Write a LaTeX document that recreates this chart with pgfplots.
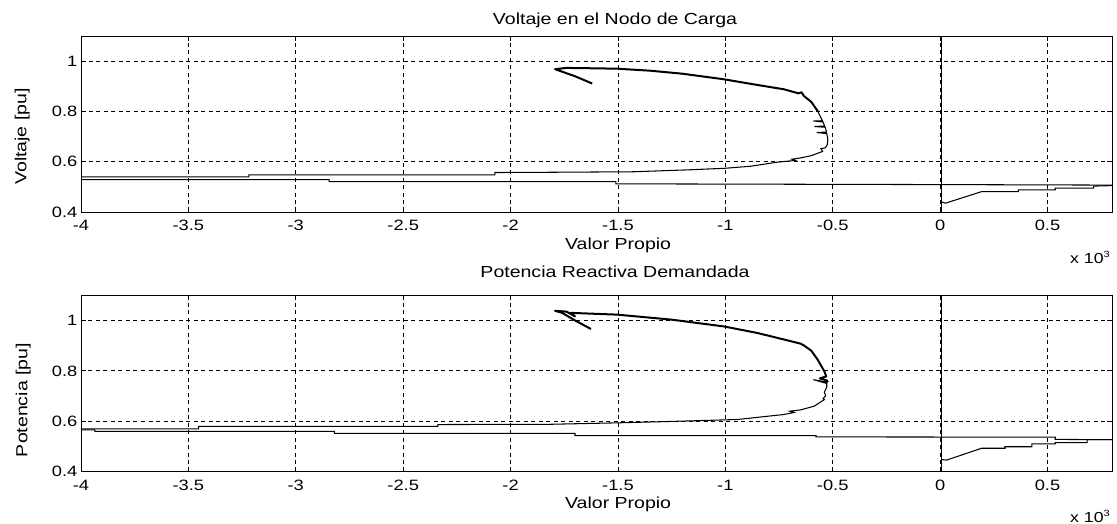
\documentclass[border=0pt]{standalone}
\usepackage{fontspec}
\setmainfont{Liberation Sans}[FakeStretch=1.22]
\usepackage{pgfplots}
\pgfplotsset{compat=1.18}
\pgfplotsset{
  matlab/.style={
    scale only axis, width=1031pt,
    xmin=-4, xmax=0.8, ymin=0.4, ymax=1.1,
    xtick={-4,-3.5,-3,-2.5,-2,-1.5,-1,-0.5,0,0.5},
    xticklabels={-4,-3.5,-3,-2.5,-2,-1.5,-1,-0.5,0,0.5},
    ytick={0.4,0.6,0.8,1}, yticklabels={0.4,0.6,0.8,1},
    grid=major,
    major grid style={black, line width=0.7pt, dash pattern=on 4pt off 3.5pt},
    axis line style={black, line width=0.9pt},
    tick style={black, line width=0.8pt}, major tick length=5pt, tick align=inside,
    tick label style={font=\fontsize{15}{17}\selectfont},
    xticklabel style={anchor=base, yshift=-18.7pt},
    yticklabel style={anchor=east, inner xsep=3.5pt},
    label style={font=\fontsize{16}{18}\selectfont, inner sep=0pt},
    title style={font=\fontsize{16}{18}\selectfont, inner sep=0pt, anchor=base},
    ylabel style={anchor=south, rotate=0},
    xlabel style={anchor=base},
    thin/.style={black, line width=1.05pt, no marks},
    thick/.style={black, line width=2pt, no marks, line join=round},
  }
}
\begin{document}
\begin{tikzpicture}
\useasboundingbox (0pt,0pt) rectangle (1117pt,524pt);
% ---------------- top axis ----------------
\begin{axis}[matlab,
  at={(81pt,312pt)}, anchor=south west, height=176pt,
  title={Voltaje en el Nodo de Carga},
  title style={at={(axis description cs:0.518,1.030)}},
  xlabel={Valor Propio},
  xlabel style={at={(axis description cs:0.521,-0.212)}},
  ylabel={Voltaje [pu]},
  ylabel style={at={(axis description cs:-0.0495,0.429)}},
]
\addplot[thick] coordinates {(-1.620,0.911) (-1.700,0.940) (-1.793,0.968) (-1.740,0.973) (-1.650,0.972) (-1.505,0.970) (-1.350,0.962) (-1.200,0.950) (-1.008,0.928) (-0.870,0.908) (-0.727,0.888) (-0.660,0.872) (-0.645,0.876) (-0.635,0.862) (-0.600,0.838) (-0.570,0.801)};
\addplot[thin] coordinates {(-0.570,0.801) (-0.558,0.780) (-0.548,0.763) (-0.590,0.762) (-0.545,0.758) (-0.538,0.742) (-0.585,0.740) (-0.535,0.737) (-0.529,0.718) (-0.575,0.716) (-0.528,0.712) (-0.523,0.690) (-0.525,0.668) (-0.535,0.655) (-0.555,0.652) (-0.547,0.641) (-0.600,0.624) (-0.650,0.615) (-0.690,0.610) (-0.675,0.605) (-0.760,0.598) (-0.882,0.582) (-1.000,0.574) (-1.162,0.568) (-1.427,0.560) (-1.816,0.558) (-2.073,0.557) (-2.073,0.548) (-3.218,0.548) (-3.218,0.540) (-4.000,0.540)};
\addplot[thin] coordinates {(-4.000,0.529) (-2.845,0.529) (-2.845,0.521) (-1.510,0.521) (-1.510,0.512) (0.000,0.509) (0.800,0.507)};
\addplot[thin] coordinates {(0.006,0.4) (0.006,1.1)};
\addplot[thin] coordinates {(0.006,0.440) (0.025,0.435) (0.193,0.481) (0.364,0.481) (0.364,0.488) (0.536,0.488) (0.536,0.495) (0.715,0.495) (0.715,0.503) (0.800,0.505)};
\addplot[black, line width=1.8pt, no marks] coordinates {(0.006,0.506) (0.006,0.621)};
\end{axis}
% ---------------- bottom axis ----------------
\begin{axis}[matlab,
  at={(81pt,52.3pt)}, anchor=south west, height=176.5pt,
  title={Potencia Reactiva Demandada},
  title style={at={(axis description cs:0.518,1.064)}},
  xlabel={Valor Propio},
  xlabel style={at={(axis description cs:0.521,-0.2096)}},
  ylabel={Potencia [pu]},
  ylabel style={at={(axis description cs:-0.0485,0.406)}},
]
\addplot[thick] coordinates {(-1.626,0.966) (-1.700,1.000) (-1.760,1.030) (-1.793,1.038) (-1.740,1.035) (-1.700,1.016) (-1.720,1.030) (-1.600,1.026) (-1.505,1.023) (-1.250,1.003) (-1.006,0.976) (-0.850,0.950) (-0.726,0.924) (-0.650,0.908) (-0.633,0.900) (-0.600,0.880) (-0.570,0.844) (-0.539,0.798) (-0.530,0.778) (-0.560,0.770) (-0.528,0.762) (-0.523,0.755)};
\addplot[thin] coordinates {(-0.523,0.755) (-0.590,0.765) (-0.528,0.750) (-0.528,0.735) (-0.539,0.716) (-0.533,0.700) (-0.545,0.690) (-0.539,0.686) (-0.586,0.660) (-0.650,0.645) (-0.700,0.640) (-0.680,0.635) (-0.726,0.627) (-0.944,0.607) (-1.224,0.600) (-1.489,0.594) (-1.816,0.588) (-2.338,0.587) (-2.338,0.580) (-3.452,0.580) (-3.452,0.570) (-4.000,0.570)};
\addplot[thin] coordinates {(-4.000,0.566) (-3.935,0.566) (-3.935,0.560) (-2.820,0.560) (-2.820,0.552) (-1.700,0.552) (-1.700,0.543) (-0.578,0.543) (-0.578,0.538) (0.536,0.537) (0.536,0.528) (0.800,0.527)};
\addplot[thin] coordinates {(0.006,0.4) (0.006,1.1)};
\addplot[thin] coordinates {(0.006,0.448) (0.030,0.446) (0.193,0.493) (0.302,0.493) (0.302,0.499) (0.427,0.499) (0.427,0.510) (0.536,0.510) (0.536,0.515) (0.684,0.515) (0.684,0.527) (0.800,0.527)};
\addplot[black, line width=1.8pt, no marks] coordinates {(0.006,0.448) (0.006,0.485)};
\end{axis}
\node[anchor=base west, inner sep=0pt, font=\fontsize{14.5}{16}\selectfont] at (1070pt,260.7pt) {x 10\raisebox{6pt}{\fontsize{9}{10}\selectfont 3}};
\node[anchor=base west, inner sep=0pt, font=\fontsize{14.5}{16}\selectfont] at (1070pt,1.5pt) {x 10\raisebox{6pt}{\fontsize{9}{10}\selectfont 3}};
\end{tikzpicture}
\end{document}
